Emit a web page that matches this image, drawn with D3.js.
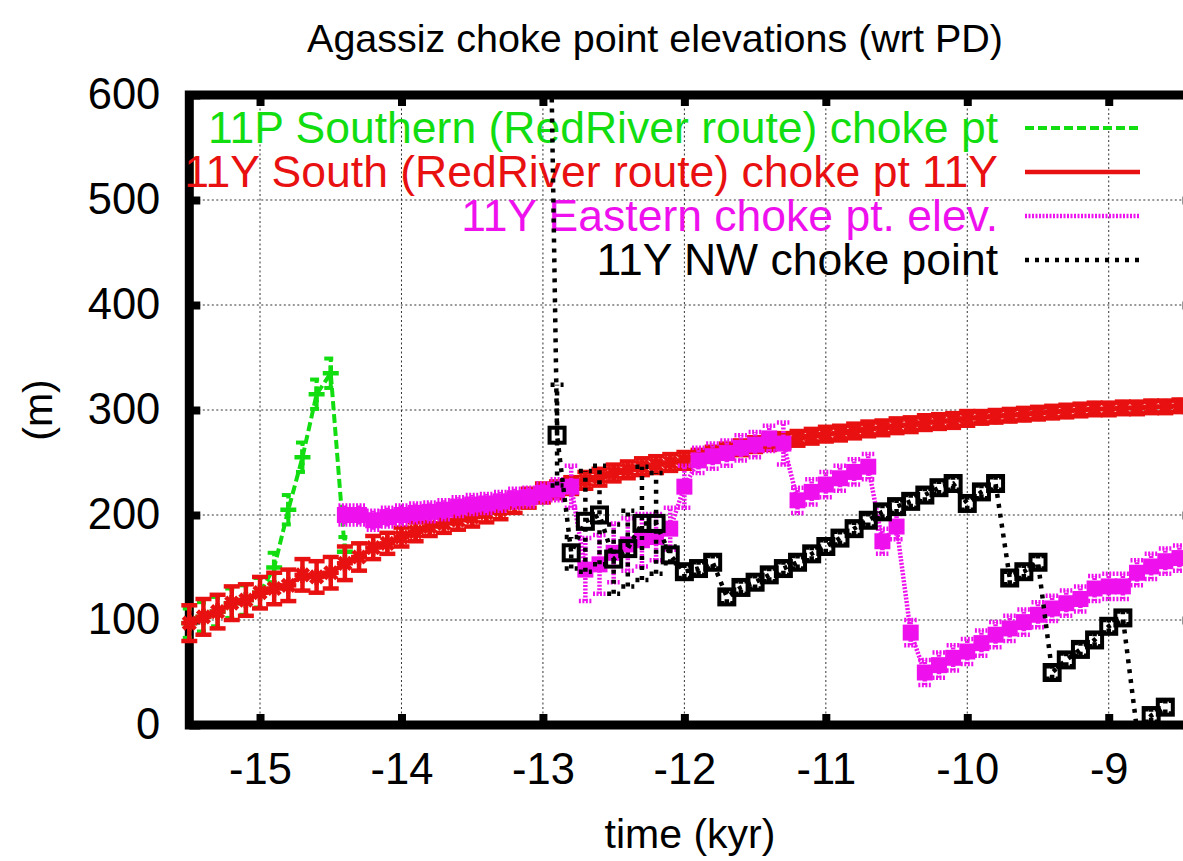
<!DOCTYPE html>
<html>
<head>
<meta charset="utf-8">
<script src="https://cdn.jsdelivr.net/npm/d3@7"></script>
<style>
  body { margin: 0; background: #fff; }
  svg { display: block; }
  text { font-family: "Liberation Sans", Arial, Helvetica, sans-serif; }
</style>
</head>
<body>
<svg id="chart" width="1183" height="861"></svg>
<script>
// ---- data (time in kyr, elevation in m relative to present day) ----

// 11Y South (RedRiver route) choke point
const southTimes = [-15.5,-15.4,-15.3,-15.2,-15.1,-15.0,-14.9,-14.8,-14.7,-14.6,-14.5,-14.4,-14.3,-14.2,-14.1,-14.0,
  -13.9,-13.8,-13.7,-13.6,-13.5,-13.4,-13.3,-13.2,-13.1,-13.0,-12.9,-12.8,-12.7,-12.6,-12.5,-12.4,-12.3,-12.2,-12.1,-12.0,
  -11.9,-11.8,-11.7,-11.6,-11.5,-11.4,-11.3,-11.2,-11.1,-11.0,-10.9,-10.8,-10.7,-10.6,-10.5,-10.4,-10.3,-10.2,-10.1,-10.0,
  -9.9,-9.8,-9.7,-9.6,-9.5,-9.4,-9.3,-9.2,-9.1,-9.0,-8.9,-8.8,-8.7,-8.6,-8.5];
const southElev = [97,103,108,116,119,126,130,133,143,141,145,154,160,169,173,179,
  184,189,192,195,198,202,205,211,216,221,224,228,233,236,240,243,246,248,250,252,
  255,258,261,264,267,269,271,273,275,277,278,280,282,283,285,286,288,289,290,292,
  293,294,295,296,297,298,299,300,301,301,302,302,303,303,304];
const southErr = [17,17,16,16,15,15,15,15,15,15,15,16,13,11,10,9,
  9,9,9,9,9,9,9,9,9,9,8,8,8,8,8,8,8,8,8,8,
  7,7,7,7,7,7,7,7,7,7,7,7,7,7,7,7,7,7,7,7,
  6,6,6,6,6,6,6,6,6,6,6,6,6,6,6];

// 11P Southern (RedRiver route) choke point
const redRiverTimes = [-15.5,-15.4,-15.3,-15.2,-15.1,-15.0,-14.9,-14.8,-14.7,-14.6,-14.5,-14.4];
const redRiverElev = [97,103,108,116,119,126,150,205,255,315,335,165];
const redRiverErr = [14,14,14,14,14,14,14,14,14,14,14,14];

// 11Y Eastern choke point
const easternTimes = [-14.4,-14.3,-14.2,-14.1,-14.0,-13.9,-13.8,-13.7,-13.6,-13.5,-13.4,-13.3,-13.2,-13.1,-13.0,
  -12.9,-12.8,-12.7,-12.6,-12.5,-12.4,-12.3,-12.2,-12.1,-12.0,
  -11.9,-11.8,-11.7,-11.6,-11.5,-11.4,-11.3,-11.2,-11.1,-11.0,
  -10.9,-10.8,-10.7,-10.6,-10.5,-10.4,-10.3,-10.2,-10.1,-10.0,
  -9.9,-9.8,-9.7,-9.6,-9.5,-9.4,-9.3,-9.2,-9.1,-9.0,
  -8.9,-8.8,-8.7,-8.6,-8.5];
const easternElev = [200,200,195,198,200,202,203,205,208,210,211,213,216,217,221,
  224,227,148,153,164,172,176,179,187,227,
  252,256,259,264,267,273,268,214,222,229,
  235,241,246,175,189,88,50,57,64,70,
  78,86,92,98,105,111,116,120,130,132,
  132,145,151,156,159];
const easternErr = [9,9,9,9,9,9,9,9,9,9,9,9,9,9,9,
  10,20,30,28,28,25,25,22,20,20,
  12,12,12,12,12,12,20,12,12,12,
  12,12,12,12,12,12,12,12,12,12,
  12,12,12,12,12,12,12,12,12,12,
  12,12,12,12,12];

// 11Y NW choke point
const nwTimes = [-13.0,-12.9,-12.8,-12.7,-12.6,-12.5,-12.4,-12.3,-12.2,-12.1,-12.0,
  -11.9,-11.8,-11.7,-11.6,-11.5,-11.4,-11.3,-11.2,-11.1,-11.0,
  -10.9,-10.8,-10.7,-10.6,-10.5,-10.4,-10.3,-10.2,-10.1,-10.0,
  -9.9,-9.8,-9.7,-9.6,-9.5,-9.4,-9.3,-9.2,-9.1,-9.0,
  -8.9,-8.8,-8.7,-8.6];
const nwElev = [1130,276,164,194,200,158,168,192,192,162,146,
  149,155,122,131,136,143,149,155,163,170,
  178,187,195,203,208,213,219,226,230,211,
  222,230,140,146,155,50,62,72,81,94,
  102,-5,9,17];
const nwErr = [0,48,15,48,47,33,36,54,48,8,6,
  6,6,6,6,6,6,6,6,6,6,
  6,6,6,6,6,6,6,6,6,6,
  6,6,6,6,6,6,6,6,6,6,
  6,6,6,6];

// axis ticks
const xTickValues = [-15, -14, -13, -12, -11, -10, -9];
const yTickValues = [0, 100, 200, 300, 400, 500, 600];

const legendLabels = [
  "11P Southern (RedRiver route) choke pt",
  "11Y South (RedRiver route) choke pt 11Y",
  "11Y Eastern choke pt. elev.",
  "11Y NW choke point"
];

// ---- series styling ----
const zip = (ts, vs, es) => ts.map((t, i) => ({ t, v: vs[i], e: es[i] }));
const series = [
  { name: legendLabels[0], data: zip(redRiverTimes, redRiverElev, redRiverErr),
    color: "#11dd11", dash: "9,4", width: 4, marker: "plus", capW: 13, size: 8 },
  { name: legendLabels[1], data: zip(southTimes, southElev, southErr),
    color: "#e81010", dash: null, width: 4.5, marker: "star", capW: 16, size: 8 },
  { name: legendLabels[2], data: zip(easternTimes, easternElev, easternErr),
    color: "#ee11ee", dash: "2,1.5", width: 4.5, marker: "filledSquare", capW: 13, size: 16 },
  { name: legendLabels[3], data: zip(nwTimes, nwElev, nwErr),
    color: "#000000", dash: "4,6", width: 4.5, marker: "openSquare", capW: 13, size: 15 }
];

// ---- layout ----
const svg = d3.select("#chart");
const x = d3.scaleLinear().domain([-15.5, -8.4]).range([189.3, 1193.6]);
const y = d3.scaleLinear().domain([0, 600]).range([725, 95]);
const [xL, xR] = x.range();
const [yB, yT] = y.range();

svg.append("defs").append("clipPath").attr("id", "plotClip")
  .append("rect").attr("x", xL).attr("y", yT).attr("width", xR - xL).attr("height", yB - yT);

// title and axis titles
svg.append("text").attr("x", 655).attr("y", 52).attr("text-anchor", "middle")
  .attr("font-size", 39.5).attr("fill", "#000").text("Agassiz choke point elevations (wrt PD)");
svg.append("text").attr("x", 690).attr("y", 848).attr("text-anchor", "middle")
  .attr("font-size", 41).attr("fill", "#000").text("time (kyr)");
svg.append("text").attr("transform", "translate(52,410) rotate(-90)").attr("text-anchor", "middle")
  .attr("font-size", 41).attr("fill", "#000").text("(m)");

// grid
const grid = svg.append("g").attr("stroke", "#333").attr("stroke-width", 1).attr("stroke-dasharray", "2,2.5");
grid.selectAll("line.gx").data(xTickValues).join("line").attr("class", "gx")
  .attr("x1", d => x(d)).attr("x2", d => x(d)).attr("y1", yT).attr("y2", yB);
grid.selectAll("line.gy").data(yTickValues.filter(v => v > 0 && v < 600)).join("line").attr("class", "gy")
  .attr("x1", xL).attr("x2", xR).attr("y1", d => y(d)).attr("y2", d => y(d));

// axes (inward ticks on all four sides)
const fmt = d => `${d}`;
const styleAxis = g => {
  g.select(".domain").remove();
  g.selectAll(".tick line").attr("stroke", "#000").attr("stroke-width", 8);
  g.selectAll(".tick text").attr("font-size", 43.5).attr("fill", "#000")
    .attr("font-family", "'Liberation Sans', Arial, Helvetica, sans-serif");
};
svg.append("g").attr("transform", `translate(0,${yB})`)
  .call(d3.axisBottom(x).tickValues(xTickValues).tickFormat(fmt).tickSize(-11).tickPadding(28))
  .call(styleAxis);
svg.append("g").attr("transform", `translate(0,${yT})`)
  .call(d3.axisTop(x).tickValues(xTickValues).tickFormat("").tickSize(-11))
  .call(styleAxis);
svg.append("g").attr("transform", `translate(${xL},0)`)
  .call(d3.axisLeft(y).tickValues(yTickValues).tickFormat(fmt).tickSize(-11).tickPadding(29))
  .call(styleAxis);
svg.append("g").attr("transform", `translate(${xR},0)`)
  .call(d3.axisRight(y).tickValues(yTickValues).tickFormat("").tickSize(-11))
  .call(styleAxis);

svg.append("rect").attr("x", xL).attr("y", yT).attr("width", xR - xL).attr("height", yB - yT)
  .attr("fill", "none").attr("stroke", "#000").attr("stroke-width", 9);

// legend + series, each key entry drawn just before its curve
const legendX = 998, sampleX1 = 1025, sampleX2 = 1140, legendTop = 128, legendGap = 44;
const line = d3.line().x(d => x(d.t)).y(d => y(d.v));
const inRange = d => d.v >= 0 && d.v <= 600;

series.forEach((s, i) => {
  const ly = legendTop + i * legendGap;
  const lg = svg.append("g");
  lg.append("text").attr("x", legendX).attr("y", ly + 15).attr("text-anchor", "end")
    .attr("font-size", 44.5).attr("fill", s.color).text(s.name);
  lg.append("line").attr("x1", sampleX1).attr("x2", sampleX2).attr("y1", ly).attr("y2", ly)
    .attr("stroke", s.color).attr("stroke-width", s.width)
    .attr("stroke-dasharray", s.dash);

  const g = svg.append("g");
  // connecting line
  g.append("path").datum(s.data).attr("d", line).attr("fill", "none")
    .attr("stroke", s.color).attr("stroke-width", s.width)
    .attr("stroke-dasharray", s.dash).attr("clip-path", "url(#plotClip)");

  const pts = s.data.filter(inRange);
  // error bars
  const eb = g.append("g").attr("stroke", s.color).attr("stroke-width", s.width)
    .attr("stroke-dasharray", s.dash).attr("fill", "none");
  pts.filter(d => d.e > 0).forEach(d => {
    const cx = x(d.t), lo = y(d.v - d.e), hi = y(d.v + d.e), hw = s.capW / 2;
    eb.append("line").attr("x1", cx).attr("x2", cx).attr("y1", lo).attr("y2", hi);
    eb.append("line").attr("x1", cx - hw).attr("x2", cx + hw).attr("y1", lo).attr("y2", lo);
    eb.append("line").attr("x1", cx - hw).attr("x2", cx + hw).attr("y1", hi).attr("y2", hi);
  });

  // point markers
  const mk = g.append("g");
  pts.forEach(d => {
    const cx = x(d.t), cy = y(d.v), r = s.size / 2;
    if (s.marker === "plus" || s.marker === "star") {
      const a = s.size;
      mk.append("line").attr("x1", cx - a).attr("x2", cx + a).attr("y1", cy).attr("y2", cy)
        .attr("stroke", s.color).attr("stroke-width", 4.5);
      mk.append("line").attr("x1", cx).attr("x2", cx).attr("y1", cy - a).attr("y2", cy + a)
        .attr("stroke", s.color).attr("stroke-width", 4.5);
      if (s.marker === "star") {
        const q = a * 0.75;
        mk.append("path").attr("d", `M${cx - q},${cy - q}L${cx + q},${cy + q}M${cx - q},${cy + q}L${cx + q},${cy - q}`)
          .attr("stroke", s.color).attr("stroke-width", 4.5);
      }
    } else if (s.marker === "filledSquare") {
      mk.append("rect").attr("x", cx - r).attr("y", cy - r).attr("width", s.size).attr("height", s.size)
        .attr("fill", s.color);
    } else {
      mk.append("rect").attr("x", cx - r).attr("y", cy - r).attr("width", s.size).attr("height", s.size)
        .attr("fill", "none").attr("stroke", s.color).attr("stroke-width", 4);
    }
  });
});
</script>
</body>
</html>
